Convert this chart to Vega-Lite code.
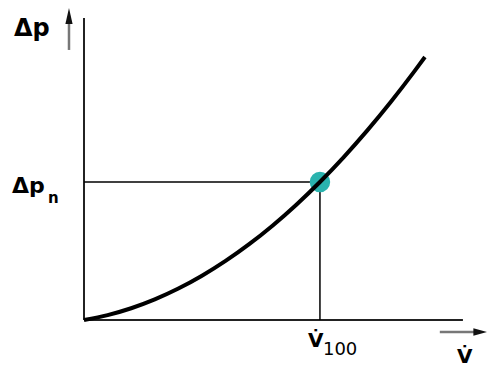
{
  "$schema": "https://vega.github.io/schema/vega-lite/v6.json",
  "width": 487,
  "height": 367,
  "autosize": "none",
  "padding": 0,
  "background": "white",
  "config": {"view": {"stroke": null}},
  "encoding": {
    "x": {"field": "v", "type": "quantitative", "scale": {"domain": [-0.356, 1.708], "nice": false, "zero": false}, "axis": null},
    "y": {"field": "p", "type": "quantitative", "scale": {"domain": [-0.3406, 2.319], "nice": false, "zero": false}, "axis": null}
  },
  "layer": [
    {
      "data": {"values": [
        {"seg": "yaxis", "v": 0, "p": 0, "v2": 0, "p2": 2.188},
        {"seg": "xaxis", "v": 0, "p": 0, "v2": 1.606, "p2": 0}
      ]},
      "mark": {"type": "rule", "color": "#222", "strokeWidth": 2},
      "encoding": {"x2": {"field": "v2"}, "y2": {"field": "p2"}}
    },
    {
      "data": {"values": [
        {"seg": "yarrow", "v": -0.0636, "p": 1.957, "v2": -0.0636, "p2": 2.19},
        {"seg": "xarrow", "v": 1.508, "p": -0.087, "v2": 1.66, "p2": -0.087}
      ]},
      "mark": {"type": "rule", "color": "#777", "strokeWidth": 2.5},
      "encoding": {"x2": {"field": "v2"}, "y2": {"field": "p2"}}
    },
    {
      "data": {"values": [{"v": -0.0636, "p": 2.203}]},
      "mark": {"type": "point", "shape": "M-0.45,1L0,-1L0.45,1Z", "filled": true, "color": "#111", "size": 256, "opacity": 1}
    },
    {
      "data": {"values": [{"v": 1.68, "p": -0.087}]},
      "mark": {"type": "point", "shape": "M-1,-0.55L1,0L-1,0.55Z", "filled": true, "color": "#111", "size": 196, "opacity": 1}
    },
    {
      "data": {"values": [
        {"seg": "h", "v": 0, "p": 1, "v2": 1, "p2": 1},
        {"seg": "v", "v": 1, "p": 0, "v2": 1, "p2": 1}
      ]},
      "mark": {"type": "rule", "color": "#000", "strokeWidth": 1.5},
      "encoding": {"x2": {"field": "v2"}, "y2": {"field": "p2"}}
    },
    {
      "data": {"values": [{"v": 1, "p": 1}]},
      "mark": {"type": "point", "filled": true, "color": "#2ab3ae", "size": 420, "opacity": 1}
    },
    {
      "data": {"values": [
        {"v": 0, "p": 0}, {"v": 0.1, "p": 0.0355}, {"v": 0.2, "p": 0.0853}, {"v": 0.3, "p": 0.1494},
        {"v": 0.4, "p": 0.2279}, {"v": 0.5, "p": 0.3208}, {"v": 0.6, "p": 0.4279}, {"v": 0.7, "p": 0.5494},
        {"v": 0.8, "p": 0.6853}, {"v": 0.9, "p": 0.8355}, {"v": 1.0, "p": 1.0}, {"v": 1.1, "p": 1.1789},
        {"v": 1.2, "p": 1.3721}, {"v": 1.3, "p": 1.5796}, {"v": 1.4, "p": 1.8015}, {"v": 1.445, "p": 1.906}
      ]},
      "mark": {"type": "line", "color": "#000", "strokeWidth": 4, "interpolate": "monotone", "strokeCap": "butt"}
    },
    {
      "data": {"values": [{"label": "Δp", "v": -0.2966, "p": 2.058}]},
      "mark": {"type": "text", "align": "left", "baseline": "alphabetic", "font": "DejaVu Sans", "fontWeight": "bold", "fontSize": 24, "color": "#000"},
      "encoding": {"text": {"field": "label"}}
    },
    {
      "data": {"values": [{"label": "Δp", "v": -0.305, "p": 0.92}]},
      "mark": {"type": "text", "align": "left", "baseline": "alphabetic", "font": "DejaVu Sans", "fontWeight": "bold", "fontSize": 22, "color": "#000"},
      "encoding": {"text": {"field": "label"}}
    },
    {
      "data": {"values": [
        {"label": "V̇", "v": 0.949, "p": -0.1957},
        {"label": "V̇", "v": 1.5805, "p": -0.3116}
      ]},
      "mark": {"type": "text", "align": "left", "baseline": "alphabetic", "font": "DejaVu Sans", "fontWeight": "bold", "fontSize": 20, "color": "#000"},
      "encoding": {"text": {"field": "label"}}
    },
    {
      "data": {"values": [{"label": "n", "v": -0.153, "p": 0.848}]},
      "mark": {"type": "text", "align": "left", "baseline": "alphabetic", "font": "DejaVu Sans", "fontWeight": "bold", "fontSize": 15, "color": "#000"},
      "encoding": {"text": {"field": "label"}}
    },
    {
      "data": {"values": [{"label": "100", "v": 1.0127, "p": -0.2536}]},
      "mark": {"type": "text", "align": "left", "baseline": "alphabetic", "font": "DejaVu Sans", "fontSize": 18, "color": "#000"},
      "encoding": {"text": {"field": "label"}}
    }
  ]
}
